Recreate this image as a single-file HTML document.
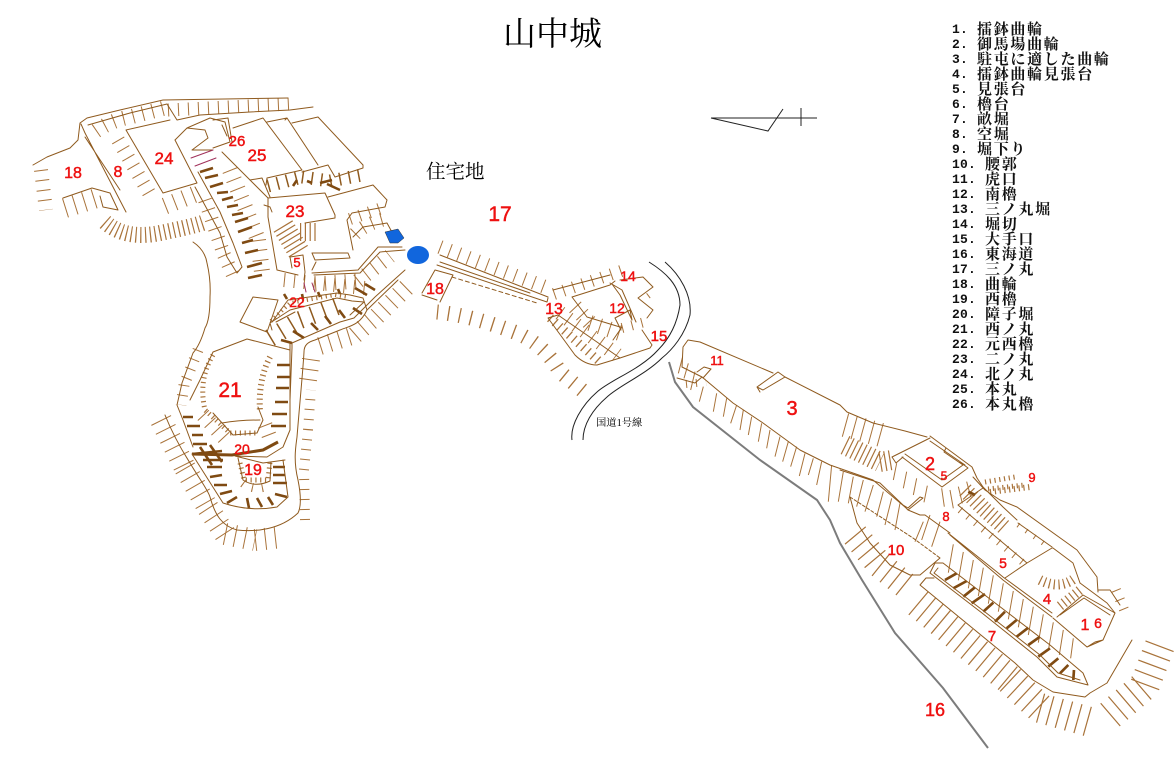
<!DOCTYPE html>
<html><head><meta charset="utf-8"><style>
html,body{margin:0;padding:0;background:#fff}
svg{display:block}
.l{fill:none;stroke:#8f5a1e;stroke-width:1;stroke-linejoin:round;stroke-linecap:round}
.h{fill:none;stroke:#a9733a;stroke-dasharray:1 9;stroke-linejoin:bevel}
.d{fill:none;stroke:#a9733a;stroke-dasharray:1.2 3.6;stroke-linejoin:bevel}
.b{fill:none;stroke:#7f4a12;stroke-width:8}
.n{fill:#ee1111;font-family:"Liberation Sans",sans-serif;text-anchor:middle;stroke:#ee1111;stroke-width:.45}
.t{font-family:"Liberation Mono",monospace;font-weight:bold;font-size:13px;letter-spacing:.2px;fill:#111}
.k{font-family:"Liberation Serif","Noto Serif CJK SC",serif;font-weight:bold;font-size:15px;letter-spacing:1.7px;fill:#111}
</style></head><body>
<svg xmlns="http://www.w3.org/2000/svg" width="1176" height="784" viewBox="0 0 1176 784">
<rect width="1176" height="784" fill="#fff"/>

<text x="503" y="45" style="font-family:'Noto Serif CJK SC',serif;font-size:33px">山中城</text>
<text x="426" y="178" style="font-family:'Noto Serif CJK SC',serif;font-size:19.5px">住宅地</text>
<text x="596" y="426" style="font-family:'Liberation Serif','Noto Serif CJK SC',serif;font-size:10.3px">国道1号線</text>

<!-- north arrow -->
<path d="M711,118H817M711,118L768,131L783,109M801,108V126" fill="none" stroke="#222" stroke-width="1"/>

<!-- hachures, NW -->
<path class="h" stroke-width="13" d="M168,110L290,104"/>
<path class="h" stroke-width="15" d="M96,131Q112,120 130,117L165,108"/>
<path class="h" stroke-width="14" d="M118,140L152,198"/>
<path class="h" stroke-width="17" d="M165,206L198,193"/>
<path class="h" stroke-width="14" d="M41,170L46,210"/>
<path class="h" stroke-width="20" d="M65,208L100,197"/>
<path class="d" stroke-width="16" d="M105,222Q125,240 160,233T205,222"/>
<path class="h" stroke-width="16" d="M230,170L258,240M258,240L262,272"/>
<path class="h" stroke-width="14" d="M205,200L224,255M224,255L236,282"/>
<path class="h" stroke-width="13" d="M268,186L302,177M302,177L330,181M330,181L362,175" style="stroke:#8f5a1e;stroke-dasharray:1.5 8"/>
<path class="d" stroke-width="22" d="M283,226L300,254"/>
<path class="d" stroke-width="18" d="M300,232H318"/>
<path class="h" stroke-width="12" d="M350,219L385,207"/>
<path class="h" stroke-width="14" d="M355,234Q365,224 385,219"/>
<path class="h" stroke-width="15" d="M315,284L358,281M358,281L390,256"/>
<path class="h" stroke-width="14" d="M284,280L365,288"/>
<path class="h" stroke-width="18" d="M308,380L312,352M320,346L355,335M355,335L377,316M377,316L410,284"/>
<path class="h" stroke-width="18" d="M270,338L300,320M300,320L340,305" style="stroke:#8f5a1e;stroke-dasharray:1.5 11"/>
<path class="h" stroke-width="11" d="M198,350L184,385M184,385L181,405"/>
<path class="h" stroke-width="22" d="M161,420L185,468M185,468L208,508M208,508L225,534M225,534L255,540M255,540L282,537"/>
<path class="h" stroke-width="10" d="M305,520L304,470M304,470L308,430M308,430L311,390"/>
<path class="d" stroke-width="5" d="M213,355Q198,380 205,410L230,433H258"/>
<path class="d" stroke-width="6" d="M270,357Q258,380 260,412"/>
<path class="h" stroke-width="15" d="M203,415L228,442M265,425L270,438"/>
<path class="d" stroke-width="5" d="M240,463L244,480H268L270,462"/>
<path class="h" stroke-width="9" d="M243,483Q255,492 270,485"/>
<path class="d" stroke-width="4" d="M271,321L290,303L335,295L348,297"/>

<!-- hachures, centre -->
<path class="h" stroke-width="14" d="M440,247L548,288"/>
<path class="h" stroke-width="12" d="M554,294L624,270"/>
<path class="h" stroke-width="15" style="stroke-dasharray:1.3 10" d="M437,312Q470,315 517,333Q545,345 560,372L588,395"/>
<path class="h" stroke-width="9" style="stroke-dasharray:1.3 5" d="M550,318L600,362"/>
<path class="h" stroke-width="15" d="M560,313L617,355"/>
<path class="h" stroke-width="16" d="M575,307L590,323M590,323L620,333"/>
<path class="h" stroke-width="10" d="M622,328L645,322"/>
<path class="h" stroke-width="6" d="M648,296L656,290"/>

<!-- hachures, SE -->
<g transform="translate(660 330) scale(.3333)">
<path fill="none" stroke="#a9733a" stroke-width="3" d="M68,80L55,130M85,100L72,145M105,125L92,180M130,170L118,215M170,190L160,245M200,205L190,260M230,225L212,280M250,240L240,300M275,260L265,315M305,280L295,335M330,300L320,355M360,320L345,380M385,335L368,395M410,350L392,410M435,370L418,438M460,385L445,435M485,395L470,465M515,405L505,515M550,425L535,515M580,440L565,520M610,450L590,530M640,465L615,545M670,485L650,560M695,505L675,585M720,520L705,600"/>
</g>
<g transform="translate(840 450) scale(.3333)">
<path fill="none" stroke="#a9733a" stroke-width="3" d="M340,283l-15,85M370,306l-15,85M400,330l-15,85M430,353l-15,85M460,376l-15,85M490,400l-15,85M520,423l-15,85M550,447l-15,85M580,470l-15,85M610,493l-15,85M640,517l-15,85M670,540l-12,75M700,565l-8,60M170,40l-10,50M200,65l-10,50M230,85l-10,50M262,107l-10,50M305,115l8,55M330,120l10,55M355,110l12,50M380,95l12,45M270,195l-25,75M300,215l-25,75M250,215l-25,60"/>
</g>
<path class="h" stroke-width="24" style="stroke-dasharray:1 8" d="M845,425L885,436"/>
<path class="d" stroke-width="20" d="M845,445L880,462M880,462L892,460"/>
<path class="h" stroke-width="27" style="stroke-dasharray:1.2 9" d="M855,535L880,565M880,565L905,585"/>
<path class="h" stroke-width="30" style="stroke-dasharray:1.2 8.5" d="M918,603L1010,680M1010,680L1040,708M1040,708L1090,722"/>
<path class="h" stroke-width="30" style="stroke-dasharray:1.2 9" d="M1110,715L1145,685M1145,685L1160,645"/>
<path class="h" stroke-width="10" d="M1116,590L1125,612"/>
<path class="h" stroke-width="7" d="M960,510L1027,566"/>
<path class="h" stroke-width="5" d="M1018,525L1050,548"/>
<path class="d" stroke-width="16" d="M965,490L985,510M985,510L1005,528"/>
<path class="d" stroke-width="10" d="M1040,580Q1060,590 1075,578"/>
<path class="d" stroke-width="10" d="M1060,606L1080,590"/>
<path class="d" stroke-width="5" d="M985,482L1015,477M988,489L1025,485"/>
<path class="d" stroke-width="6" d="M990,492L1030,487"/>
<path class="h" stroke-width="8" d="M686,384L706,382"/>

<!-- heavy bars NW -->
<g class="b" style="stroke-width:2.6;stroke:#7f4a12;fill:none">
<path d="M200,172L213,168M205,178L218,175M210,187L223,183M217,193L228,192M222,200L233,197M227,207L238,205M232,215L243,213M235,222L248,218M238,232L252,227M242,243L253,240M245,253L258,250M247,267L262,263M248,278L262,275"/>
<path d="M183,417H193M187,426H200M192,435H203M193,444H207M192,454L222,451M203,460H223M207,467H222M210,477L222,475M214,485H227M220,494L232,491M227,503L237,497M247,498L249,508M257,498L262,507M268,497L273,505M275,494L287,497M273,483H287M273,475H285M273,467H285"/>
<path d="M192,454L232,455L263,450L278,442" stroke-width="3"/>
<path d="M200,447L212,465M210,445L222,462"/>
<path d="M277,365H290M277,377H290M276,388H289M275,402H288M272,414H287M271,426H286M281,340L292,343"/>
<path d="M293,331L304,338M311,323L318,330M325,316L331,324M339,310L345,318M353,308L362,314M355,288L367,295M365,284L375,290"/>
<path d="M284,294L287,299M302,294L303,299M318,292L320,297M338,289L340,294"/>
<path d="M320,183L332,180M327,184L340,190M293,186L297,180M312,183L307,181"/>
</g>
<g transform="translate(840 450) scale(.3333)" style="stroke:#7f4a12;fill:none;stroke-width:8">
<path d="M315,390L350,370M340,415L380,393M370,440L405,412M395,460L435,432M430,485L460,458M465,515L495,485M500,535L530,510M530,560L565,533M565,585L600,560M595,620L630,595M625,650L655,625M660,670L685,645M700,690L702,660M385,125L405,135"/>
</g>

<!-- outlines NW -->
<path class="l" d="M33,165L47,157L70,148L78,140L80,123L87,118L120,110L163,100L288,98"/>
<path class="l" d="M88,125L130,113L167,104L177,120L200,115L250,112L290,110L313,107"/>
<path class="l" d="M85,133L126,212M85,137L120,190M81,124L85,133"/>
<path class="l" d="M63,198L92,188L110,193L118,210L103,207L100,196"/>
<path class="l" d="M126,130L170,120M126,130L163,193L197,183L175,140"/>
<path class="l" d="M175,140L187,128L210,118L225,122L230,142L213,148M187,128L205,130L208,138L192,150L213,150"/>
<path class="l" d="M213,120L228,118L232,142M222,125L227,136"/>
<path class="l" style="stroke:#a0305a" d="M191,158L213,150M195,166L216,158"/>
<path class="l" d="M193,242Q205,250 207,263Q211,280 210,297Q210,320 205,328Q200,345 193,353L182,383L177,405L183,420L193,447"/>
<path class="l" d="M195,187L220,233L227,257L237,273L242,267L233,243L220,212L198,172M222,152L250,180L268,198L268,217L277,270L298,275"/>
<path class="l" d="M233,128L263,118L302,170L267,178L266,185M267,122L287,118L318,165M292,123L318,117L363,165L363,168L335,177L328,165L302,172M263,118L266,122M285,120L287,118M250,180L262,178L270,197"/>
<path class="l" d="M268,198L325,193L335,215V218L305,223M328,197L373,185L387,200L385,207L352,213L347,220L353,250M264,205L270,207L272,212"/>
<path class="l" d="M312,253H348L350,258L315,260Z"/>
<path class="l" d="M312,273L358,270L378,247L402,247M312,270L316,262M314,275L360,273L380,252L405,250"/>
<path class="l" d="M353,237L363,227L387,223L393,234M290,257L303,255L305,272L304,280M290,257L292,268"/>
<path class="l" style="stroke:#a0305a" d="M304,283L306,292M312,283L315,292"/>
<path class="l" d="M240,322L253,297L278,300L267,332Z"/>
<path class="l" d="M272,322L288,300L337,293L350,295L363,298L367,310M270,323L290,310L337,298L352,301L364,302L350,315M270,323L272,330M276,322L295,312"/>
<path class="l" d="M213,352L247,339L290,350L290,352M213,352L200,380L190,400"/>
<path class="l" d="M213,413L233,435L257,433L263,420L258,407M222,423Q240,420 260,420"/>
<path class="l" d="M290,343L290,430L283,447L267,457L235,456L263,463L285,460"/>
<path class="l" d="M292,343V348L290,400M292,343L340,322L354,318L375,297L405,270"/>
<path class="l" d="M165,415C175,440 185,455 190,463C200,480 208,490 210,497C215,515 222,526 237,530C255,532 280,530 298,513C302,505 300,490 298,480C293,460 296,445 297,437C300,400 303,370 304,352C304,345 308,342 315,340L340,330C350,326 360,325 367,310L398,280"/>
<path class="l" d="M192,454L223,503Q250,512 277,507L288,497L283,460"/>
<path class="l" d="M238,458L243,480Q255,488 270,481L271,462"/>
<path fill="#1166dd" stroke="#333" stroke-width=".5" d="M385,232L398,229L404,238L398,243H390Z"/>
<ellipse cx="418" cy="255" rx="11" ry="9" fill="#1166dd"/>

<!-- outlines centre -->
<path class="l" d="M440,255L548,297M437,265L547,302L548,298M440,262L530,293"/>
<path class="l" style="stroke-dasharray:4 3" d="M452,277L537,303"/>
<path class="l" d="M422,293L435,270L453,275L440,302M422,295L437,300"/>
<path class="l" d="M548,318L558,315L620,358L597,365Q585,365 575,355Z"/>
<path class="l" d="M553,290L572,285L610,275M572,297L610,285L615,281M572,297L587,317L620,327M642,330L652,345L650,348L620,358"/>
<path class="l" d="M620,280L643,277L653,287L638,298L653,310L647,318M612,284L620,295L632,320M610,283L622,290L636,322M615,318L630,310L632,320M615,318L621,330M622,327L613,340"/>
<path fill="none" stroke="#222" stroke-width="1" d="M649,262C665,272 680,285 680,305C677,325 668,340 658,350C640,370 610,380 597,392C582,405 570,425 572,440M665,262C680,275 692,295 690,315C685,335 672,350 662,358C645,375 620,385 607,397C592,410 583,425 583,440"/>

<!-- grey road -->
<path fill="none" stroke="#7c7c7c" stroke-width="2" d="M669,362L675,382L693,407L760,460L817,500L830,520L840,543L862,580L895,633L943,688L988,748"/>

<!-- outlines SE -->
<path class="l" d="M682,367L683,347L688,340L700,342L773,373M785,377L840,405L847,412L873,423L905,431L927,437"/>
<path class="l" d="M682,367L702,377L733,403L763,423L800,450L830,465L873,480L905,507"/>
<path class="l" d="M757,387L778,372L785,377L763,390ZM757,387L760,392"/>
<path class="l" d="M697,372L704,367L711,369L703,378M677,378L695,383L702,377"/>
<path class="l" d="M892,457L930,438M892,457L896,463L903,457M902,457L942,487L968,468L960,462M905,454L942,480L963,465L944,452L946,448M930,436L972,467L977,478L983,487M930,441L965,465"/>
<path class="l" d="M840,470L880,483L903,505L908,508L920,497L923,498L908,510L903,505M908,510L920,515H925L950,533"/>
<path class="l" d="M850,497L857,523L870,543L890,565L910,575L920,575L940,558"/>
<path class="l" style="stroke-dasharray:3 2" d="M850,497L913,538L940,558"/>
<path class="l" d="M948,533L997,572L1003,577L1052,613M950,535L1003,580L1052,617M1005,578L1027,563M958,505L983,488M958,505L1027,563L1052,548L1053,548L1073,563L1080,583M1018,523L1052,547"/>
<path class="l" d="M973,477L985,490L1000,500L1017,507L1077,550L1097,577L1098,592M983,487L1003,507L1017,520M1098,590L1110,590L1120,605"/>
<path class="l" d="M1053,618L1087,647L1103,640L1115,613L1083,595L1057,617M1060,615L1084,598L1110,615M1087,647L1095,642L1103,640"/>
<path class="l" d="M1080,583L1107,603L1115,613"/>
<path class="l" d="M935,563L930,573L982,613L1037,657L1057,677L1088,685L1083,673L1050,645L943,563ZM938,568L934,573L985,612L1040,655L1058,673L1080,680"/>
<path class="l" d="M920,585L1015,663L1033,680L1053,692L1085,697L1090,693L1107,683L1132,640M920,585L926,578L934,578"/>

<!-- red numbers -->
<g class="n">
<text x="73" y="178" font-size="16">18</text>
<text x="118" y="177" font-size="16">8</text>
<text x="164" y="164" font-size="17">24</text>
<text x="237" y="146" font-size="15">26</text>
<text x="257" y="161" font-size="17">25</text>
<text x="295" y="217" font-size="17">23</text>
<text x="297" y="267" font-size="13">5</text>
<text x="297" y="307" font-size="14">22</text>
<text x="230" y="397" font-size="21">21</text>
<text x="242" y="454" font-size="14">20</text>
<text x="253" y="475" font-size="16">19</text>
<text x="435" y="294" font-size="16">18</text>
<text x="554" y="314" font-size="16">13</text>
<text x="628" y="281" font-size="14">14</text>
<text x="617" y="313" font-size="14">12</text>
<text x="659" y="341" font-size="15">15</text>
<text x="717" y="365" font-size="13">11</text>
<text x="792" y="415" font-size="20">3</text>
<text x="930" y="470" font-size="18">2</text>
<text x="944" y="480" font-size="12">5</text>
<text x="1032" y="482" font-size="13">9</text>
<text x="946" y="521" font-size="13">8</text>
<text x="896" y="555" font-size="15">10</text>
<text x="1003" y="568" font-size="14">5</text>
<text x="1047" y="604" font-size="15">4</text>
<text x="1085" y="630" font-size="16">1</text>
<text x="1098" y="628" font-size="14">6</text>
<text x="992" y="641" font-size="15">7</text>
<text x="935" y="716" font-size="18">16</text>
<text x="500" y="221" font-size="21">17</text>
</g>

<!-- legend -->
<g transform="translate(0 -1)">
<text class="t" x="952" y="34">1.</text><text class="k" x="977" y="35">擂鉢曲輪</text>
<text class="t" x="952" y="49">2.</text><text class="k" x="977" y="50">御馬場曲輪</text>
<text class="t" x="952" y="64">3.</text><text class="k" x="977" y="65">駐屯に適した曲輪</text>
<text class="t" x="952" y="79">4.</text><text class="k" x="977" y="80">擂鉢曲輪見張台</text>
<text class="t" x="952" y="94">5.</text><text class="k" x="977" y="95">見張台</text>
<text class="t" x="952" y="109">6.</text><text class="k" x="977" y="110">櫓台</text>
<text class="t" x="952" y="124">7.</text><text class="k" x="977" y="125">畝堀</text>
<text class="t" x="952" y="139">8.</text><text class="k" x="977" y="140">空堀</text>
<text class="t" x="952" y="154">9.</text><text class="k" x="977" y="155">堀下り</text>
<text class="t" x="952" y="169">10.</text><text class="k" x="985" y="170">腰郭</text>
<text class="t" x="952" y="184">11.</text><text class="k" x="985" y="185">虎口</text>
<text class="t" x="952" y="199">12.</text><text class="k" x="985" y="200">南櫓</text>
<text class="t" x="952" y="214">13.</text><text class="k" x="985" y="215">三ノ丸堀</text>
<text class="t" x="952" y="229">14.</text><text class="k" x="985" y="230">堀切</text>
<text class="t" x="952" y="244">15.</text><text class="k" x="985" y="245">大手口</text>
<text class="t" x="952" y="259">16.</text><text class="k" x="985" y="260">東海道</text>
<text class="t" x="952" y="274">17.</text><text class="k" x="985" y="275">三ノ丸</text>
<text class="t" x="952" y="289">18.</text><text class="k" x="985" y="290">曲輪</text>
<text class="t" x="952" y="304">19.</text><text class="k" x="985" y="305">西櫓</text>
<text class="t" x="952" y="319">20.</text><text class="k" x="985" y="320">障子堀</text>
<text class="t" x="952" y="334">21.</text><text class="k" x="985" y="335">西ノ丸</text>
<text class="t" x="952" y="349">22.</text><text class="k" x="985" y="350">元西櫓</text>
<text class="t" x="952" y="364">23.</text><text class="k" x="985" y="365">二ノ丸</text>
<text class="t" x="952" y="379">24.</text><text class="k" x="985" y="380">北ノ丸</text>
<text class="t" x="952" y="394">25.</text><text class="k" x="985" y="395">本丸</text>
<text class="t" x="952" y="409">26.</text><text class="k" x="985" y="410">本丸櫓</text>
</g>
</svg>
</body></html>
